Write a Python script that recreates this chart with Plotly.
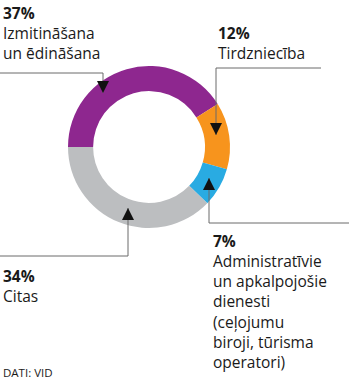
import plotly.graph_objects as go

W, H = 350, 387

categories = ["Izmitināšana un ēdināšana", "Tirdzniecība",
              "Administratīvie un apkalpojošie dienesti (ceļojumu biroji, tūrisma operatori)",
              "Citas"]
values = [37, 12, 7, 34]
pct_labels = ["37%", "12%", "7%", "34%"]
label_lines = [["Izmitināšana", "un ēdināšana"],
               ["Tirdzniecība"],
               ["Administratīvie", "un apkalpojošie", "dienesti", "(ceļojumu", "biroji, tūrisma", "operatori)"],
               ["Citas"]]
colors = ["#8E278F", "#F7941D", "#29ABE2", "#BCBEC0"]
source = "DATI: VID"


def px(x):
    return x / W


def py(y):
    return 1 - y / H


FONT = "Open Sans, Noto Sans, sans-serif"
BODY = 15.5

fig = go.Figure()
fig.add_trace(go.Pie(
    values=values, labels=categories, sort=False, direction="clockwise",
    rotation=-90, hole=0.69, marker=dict(colors=colors, line=dict(width=0)),
    textinfo="none", hoverinfo="skip", showlegend=False,
    domain=dict(x=[px(68), px(230)], y=[py(228), py(66)]),
))

# label blocks: (x_left, baseline of the percent line)
label_pos = [(1, 18), (216, 38), (211, 246), (1, 280.5)]
annotations = []
for i in range(4):
    x, b0 = label_pos[i]
    txt = "<b>" + pct_labels[i] + "</b><br>" + "<br>".join(label_lines[i])
    annotations.append(dict(
        x=px(x), y=py(b0 - 1 - 1.07 * BODY), xref="paper", yref="paper",
        xanchor="left", yanchor="top", align="left", showarrow=False, text=txt,
        font=dict(family=FONT, size=BODY, color="#1a1a1a")))

annotations.append(dict(
    x=px(1), y=py(376 - 1 - 1.07 * 11.5), xref="paper", yref="paper",
    xanchor="left", yanchor="top", align="left", showarrow=False, text=source,
    font=dict(family=FONT, size=11.5, color="#1a1a1a")))

# leader lines (layout guides)
leaders = [
    [(0, 73), (103, 73), (103, 93)],
    [(321, 68), (216, 68), (216, 135)],
    [(349, 223), (209, 223), (209, 178)],
    [(0, 256), (128, 256), (128, 208)],
]
shapes = []
for pts in leaders:
    path = "M " + " L ".join(f"{px(a)},{py(b)}" for a, b in pts)
    shapes.append(dict(type="path", path=path, xref="paper", yref="paper",
                       line=dict(color="#6b6b6b", width=1)))
    (x1, y1), (x2, y2) = pts[-2], pts[-1]
    dy = 10 if y2 > y1 else -10
    annotations.append(dict(
        x=px(x2), y=py(y2), xref="paper", yref="paper", ax=0, ay=-dy,
        showarrow=True, arrowhead=2, arrowsize=2.4, arrowwidth=1,
        arrowcolor="#111111", text=""))

fig.update_layout(
    width=W, height=H, margin=dict(l=0, r=0, t=0, b=0),
    paper_bgcolor="white", plot_bgcolor="white",
    annotations=annotations, shapes=shapes,
)

fig.write_html("out.html")
